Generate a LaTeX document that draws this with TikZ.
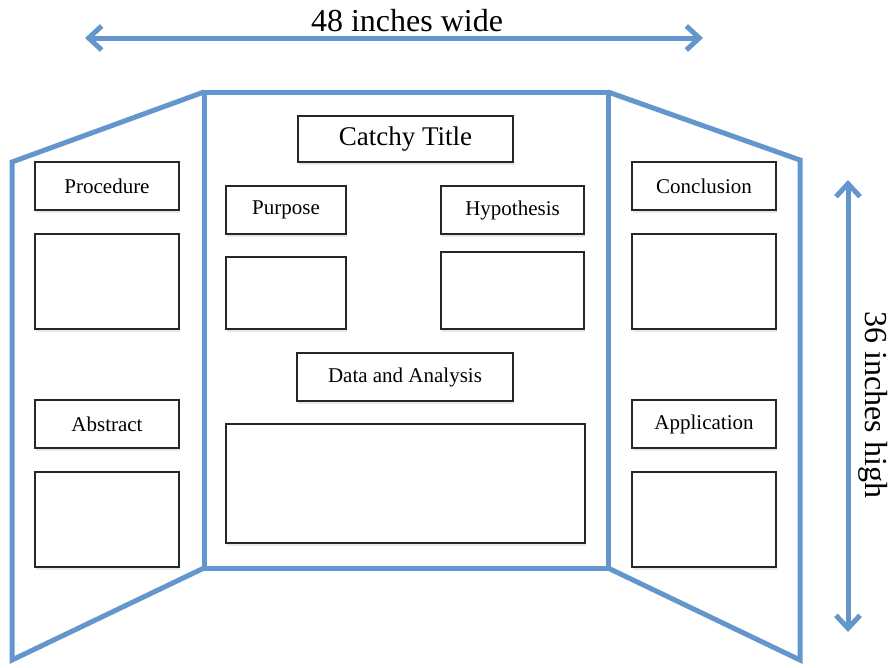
\documentclass[tikz,border=0pt]{standalone}
\usepackage{fontspec}
\setmainfont{Liberation Serif}
\usetikzlibrary{arrows.meta,shadows}
\definecolor{boardblue}{RGB}{99,150,205}
\begin{document}
\begin{tikzpicture}[x=1pt,y=-1pt,
  board/.style={draw=boardblue,line width=5pt,line join=miter},
  card/.style={draw=black!85,line width=2.4pt,fill=white,inner sep=0pt,
    font=\fontsize{21}{24}\selectfont,
    drop shadow={opacity=0.18,shadow xshift=1pt,shadow yshift=-3pt}},
  dimarrow/.style={draw=boardblue,line width=5pt,
    {Straight Barb[length=13pt,width=24pt]}-{Straight Barb[length=13pt,width=24pt]}},
  dimlabel/.style={font=\fontsize{32}{36}\selectfont,inner sep=0pt}]
\useasboundingbox (0,0) rectangle (890,667);
% board
\draw[board] (204,92) rectangle (608,568);
\draw[board] (204,92) -- (12,162) -- (12,660) -- (204,568);
\draw[board] (608,92) -- (800,160) -- (800,660) -- (608,568);
% cards
\node[card,minimum width=215,minimum height=46,font=\fontsize{27}{30}\selectfont] (title) at (405.5,139) {Catchy Title};
\node[card,minimum width=144,minimum height=48] (proc) at (107,186) {Procedure};
\node[card,minimum width=120,minimum height=48] (purp) at (286,210) {Purpose};
\node[card,minimum width=143,minimum height=48] (hyp) at (512.5,210) {Hypothesis};
\node[card,minimum width=144,minimum height=48] (conc) at (704,186) {Conclusion};
\node[card,minimum width=144,minimum height=95] (procb) at (107,281.5) {};
\node[card,minimum width=120,minimum height=72] (purpb) at (286,293) {};
\node[card,minimum width=143,minimum height=77] (hypb) at (512.5,290.5) {};
\node[card,minimum width=144,minimum height=95] (concb) at (704,281.5) {};
\node[card,minimum width=216,minimum height=48] (data) at (405,377) {Data and Analysis};
\node[card,minimum width=144,minimum height=48] (abs) at (107,424) {Abstract};
\node[card,minimum width=144,minimum height=48] (app) at (704,424) {Application};
\node[card,minimum width=359,minimum height=119] (datab) at (405.5,483.5) {};
\node[card,minimum width=144,minimum height=95] (absb) at (107,519.5) {};
\node[card,minimum width=144,minimum height=95] (appb) at (704,519.5) {};
% dimensions
\coordinate (wl) at (85,38);
\coordinate (wr) at (703,38);
\coordinate (ht) at (848,180);
\coordinate (hb) at (848,632);
\draw[dimarrow] (wl) -- (wr);
\draw[dimarrow] (ht) -- (hb);
\node[dimlabel] (wlab) at (407,21) {48 inches wide};
\node[dimlabel,rotate=-90] (hlab) at (873,405) {36 inches high};
\end{tikzpicture}
\end{document}
